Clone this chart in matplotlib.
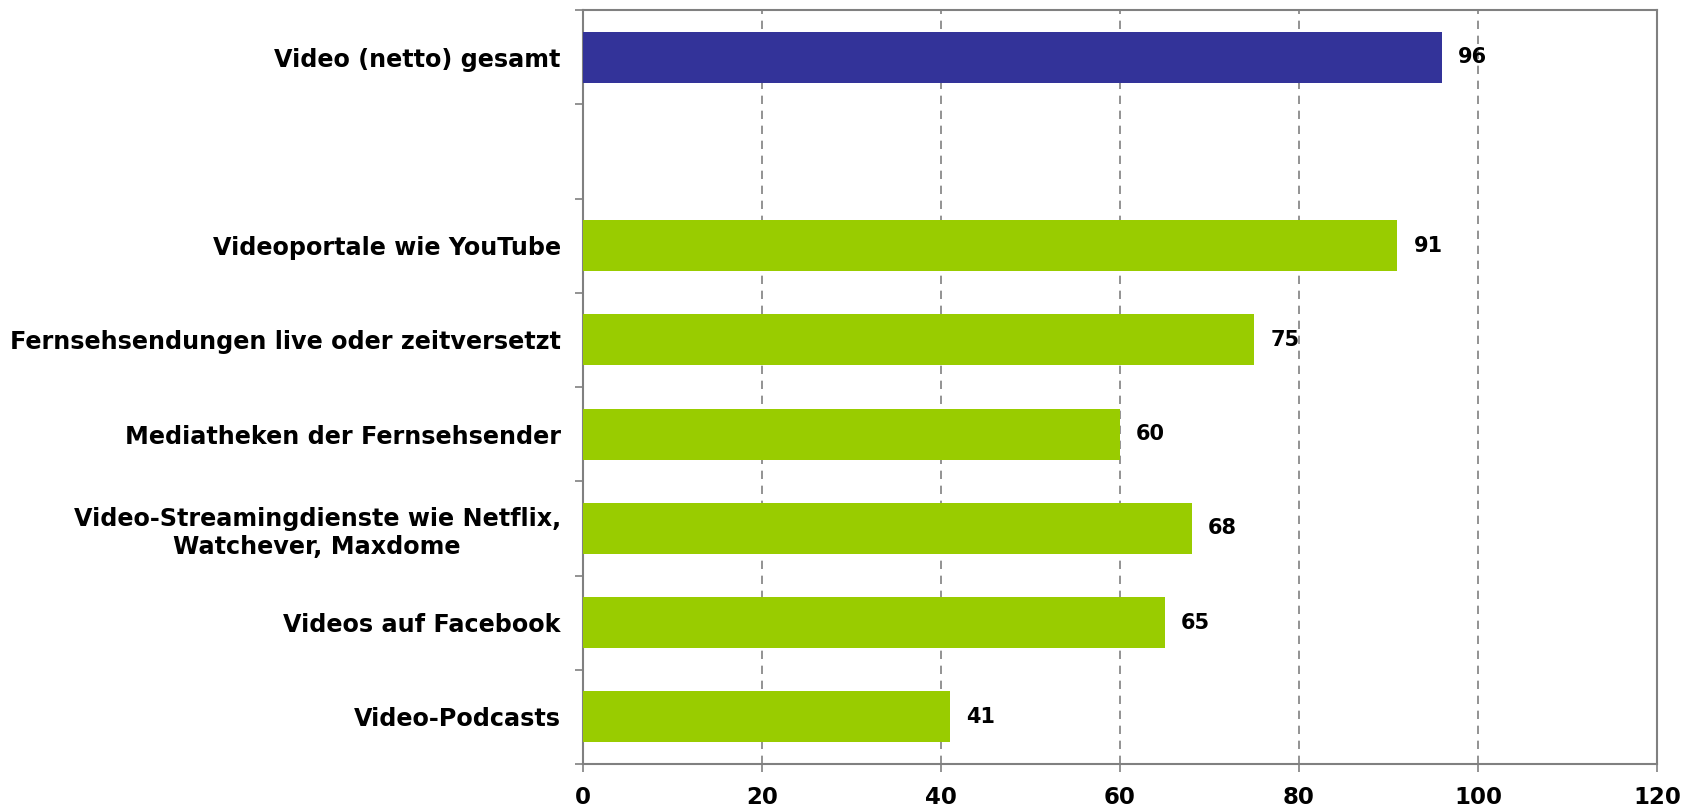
import matplotlib.pyplot as plt
import numpy as np

labels = ["Video (netto) gesamt", "",
          "Videoportale wie YouTube",
          "Fernsehsendungen live oder zeitversetzt",
          "Mediatheken der Fernsehsender",
          "Video-Streamingdienste wie Netflix,\nWatchever, Maxdome",
          "Videos auf Facebook",
          "Video-Podcasts"]
values = [96, None, 91, 75, 60, 68, 65, 41]
colors = ["#333399", None] + ["#99cc00"] * 6

plt.rcParams['font.family'] = ['DejaVu Sans']
plt.rcParams['font.weight'] = 'bold'

fig = plt.figure(figsize=(16.95, 8.07), dpi=100)
ax = fig.add_axes([583 / 1695, 1 - 764 / 807, (1657 - 583) / 1695, (764 - 10) / 807])

pos = np.arange(len(labels))
for p, v, c in zip(pos, values, colors):
    if v is None:
        continue
    ax.barh(p, v, height=0.54, color=c, zorder=3)
    ax.text(v + 1.8, p, str(v), va="center", ha="left", fontsize=15, fontweight="bold")

ax.set_xlim(0, 120)
ax.set_ylim(len(labels) - 0.5, -0.5)
ax.set_xticks(np.arange(0, 121, 20))
ax.set_xticklabels([str(t) for t in range(0, 121, 20)], fontsize=16.5, fontweight="bold")
ax.set_yticks(pos)
ax.set_yticklabels(labels, fontsize=17.2, fontweight="bold", ha="right", multialignment="center")
ax.set_yticks(np.arange(-0.5, len(labels), 1), minor=True)
ax.tick_params(axis="y", which="major", length=0, pad=16)
ax.tick_params(axis="y", which="minor", length=6, width=1.2, color="#808080")
ax.tick_params(axis="x", length=6, width=1.2, color="#808080", pad=10)

ax.grid(axis="x", linestyle=(0, (5, 4)), color="#808080", linewidth=1.2, zorder=0)
for s in ax.spines.values():
    s.set_color("#808080")
    s.set_linewidth(1.5)

fig.savefig("out.png", dpi=100)
